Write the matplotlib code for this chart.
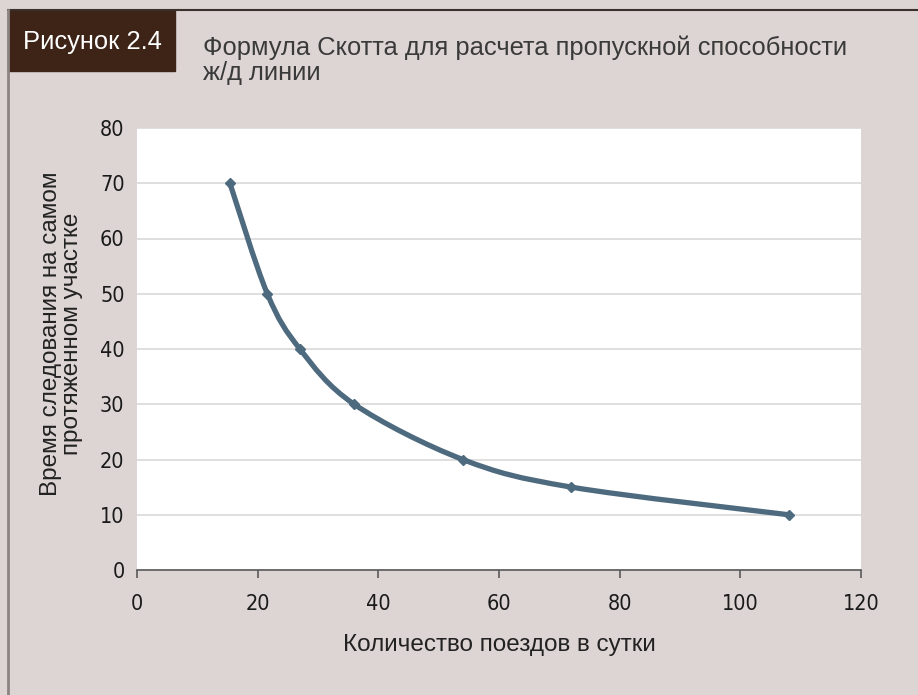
import matplotlib
matplotlib.use('Agg')
import matplotlib.pyplot as plt
from matplotlib.path import Path
from matplotlib.patches import PathPatch, Rectangle
from matplotlib.lines import Line2D

# --- Data ---
trains_per_day = [15.4, 21.6, 27, 36, 54, 72, 108]
travel_time = [70, 50, 40, 30, 20, 15, 10]
x_ticks = [0, 20, 40, 60, 80, 100, 120]
y_ticks = [0, 10, 20, 30, 40, 50, 60, 70, 80]

# --- Style ---
BG = '#ddd5d3'
LINE = '#4e6a7f'
BOX = '#3d2417'
plt.rcParams['font.family'] = ['Liberation Sans', 'DejaVu Sans']

fig = plt.figure(figsize=(9.18, 6.95), dpi=100, facecolor=BG)

# frame lines (top and left)
fig.add_artist(Line2D([8 / 918, 1], [1 - 10 / 695] * 2, color='#3a302c', lw=1.5, transform=fig.transFigure))
fig.add_artist(Line2D([8 / 918] * 2, [0, 1 - 10 / 695], color='#8c8480', lw=2, transform=fig.transFigure))

# caption box
fig.add_artist(Rectangle((8 / 918, 1 - 71 / 695), 167 / 918, 61 / 695, color=BOX, transform=fig.transFigure))
fig.text(92 / 918, 1 - 42 / 695, 'Рисунок 2.4', color='white', fontsize=18.4, ha='center', va='center')
fig.text(203 / 918, 1 - 60 / 695, 'Формула Скотта для расчета пропускной способности\nж/д линии',
         color='#3a3a3a', fontsize=18.4, ha='left', va='center', linespacing=1.05)

ax = fig.add_axes([137 / 918, 1 - 570 / 695, 724 / 918, 442 / 695])
ax.set_facecolor('white')
ax.set_xlim(0, 120)
ax.set_ylim(0, 80)
ax.set_xticks(x_ticks)
ax.set_yticks(y_ticks)
ax.grid(axis='y', color='#d9d9d9', lw=1.2)
ax.set_axisbelow(True)
for s in ['top', 'right', 'left']:
    ax.spines[s].set_visible(False)
ax.spines['bottom'].set_color('#5a5a5a')
ax.spines['bottom'].set_linewidth(1.2)
ax.tick_params(axis='x', length=6, width=1.2, color='#5a5a5a', direction='out', pad=11)
ax.tick_params(axis='y', length=0, pad=9)
for lab in ax.get_xticklabels() + ax.get_yticklabels():
    lab.set_fontfamily('DejaVu Sans')
    lab.set_fontstretch('condensed')
    lab.set_fontsize(15.5)
    lab.set_color('#1a1a1a')

# smoothed line (Catmull-Rom through the points, like Excel's smooth line)
pts = list(zip(trains_per_day, travel_time))
verts = [pts[0]]
codes = [Path.MOVETO]
for i in range(len(pts) - 1):
    p0 = pts[i - 1] if i > 0 else pts[i]
    p1, p2 = pts[i], pts[i + 1]
    p3 = pts[i + 2] if i + 2 < len(pts) else pts[i + 1]
    c1 = (p1[0] + (p2[0] - p0[0]) / 6, p1[1] + (p2[1] - p0[1]) / 6)
    c2 = (p2[0] - (p3[0] - p1[0]) / 6, p2[1] - (p3[1] - p1[1]) / 6)
    verts += [c1, c2, p2]
    codes += [Path.CURVE4] * 3
ax.add_patch(PathPatch(Path(verts, codes), fill=False, edgecolor=LINE, lw=3.8, capstyle='round', joinstyle='round'))
ax.plot(trains_per_day, travel_time, linestyle='none', marker='D', markersize=5, color=LINE)

ax.set_xlabel('Количество поездов в сутки', fontsize=17.5, color='#222222', labelpad=15)
ax.set_ylabel('Время следования на самом\nпротяженном участке', fontsize=17.5, color='#222222',
              labelpad=12, linespacing=0.93)
ax.yaxis.set_label_coords(-0.075, 0.535)

fig.savefig('out.png', dpi=100, facecolor=BG)
